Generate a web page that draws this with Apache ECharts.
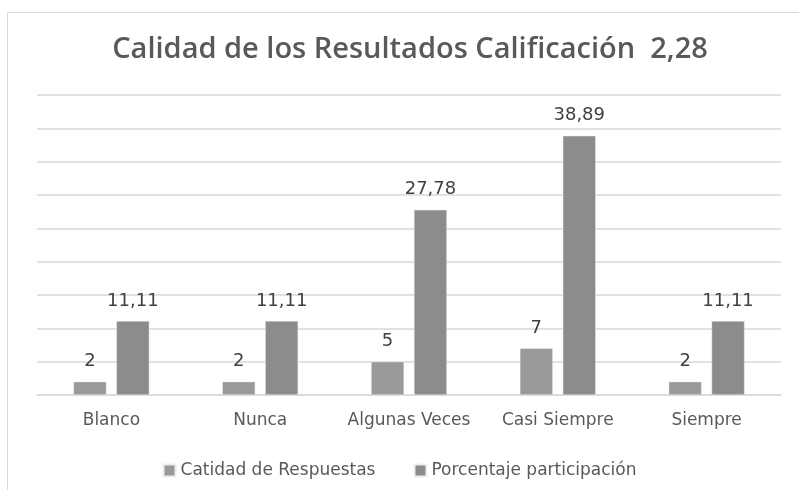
<!doctype html>
<html lang="es">
<head>
<meta charset="utf-8">
<title>Calidad de los Resultados</title>
<script src="https://cdn.jsdelivr.net/npm/echarts@6/dist/echarts.min.js"></script>
<style>
  html, body { margin: 0; padding: 0; background: #fff; }
  #frame { position: absolute; left: 7px; top: 12px; width: 820px; height: 500px; border: 1px solid #d9d9d9; }
  #chart { position: absolute; left: 0; top: 0; width: 799px; height: 490px; }
</style>
</head>
<body>
<div id="frame"></div>
<div id="chart"></div>
<script>
  const categories = ['Blanco', 'Nunca', 'Algunas Veces', 'Casi Siempre', 'Siempre'];
  const respuestas = [2, 2, 5, 7, 2];
  const porcentaje = [11.11, 11.11, 27.78, 38.89, 11.11];

  const titleFont = '"Open Sans", "Noto Sans", sans-serif';
  const font = '"DejaVu Sans", sans-serif';
  const fmt = function (p) { return String(p.value).replace('.', ','); };

  let myChart = echarts.init(document.getElementById('chart'));
  let labelStyle = {
    show: true, position: 'top', distance: 11, formatter: fmt,
    fontFamily: font, fontSize: 18, color: '#404040'
  };
  let option = {
    animation: false,
    title: {
      text: 'Calidad de los Resultados Calificación  2,28',
      left: 405,
      top: 30,
      textAlign: 'center',
      textStyle: { fontFamily: titleFont, fontSize: 29, fontWeight: 600, color: '#595959' }
    },
    legend: {
      top: 457,
      left: 'center',
      icon: 'rect',
      itemWidth: 12,
      itemHeight: 12,
      itemGap: 38,
      textStyle: { fontFamily: font, fontSize: 17, color: '#595959' },
      data: ['Catidad de Respuestas', 'Porcentaje participación']
    },
    grid: { left: 37, right: 18, top: 95, bottom: 95 },
    xAxis: {
      type: 'category',
      data: categories,
      axisTick: { show: false },
      axisLine: { lineStyle: { color: '#d9d9d9', width: 1.5 } },
      axisLabel: { interval: 0, fontFamily: font, fontSize: 17, color: '#595959', margin: 17 }
    },
    yAxis: {
      type: 'value',
      min: 0,
      max: 45,
      interval: 5,
      axisLabel: { show: false },
      splitLine: { lineStyle: { color: '#d9d9d9', width: 1.5 } }
    },
    series: [
      {
        name: 'Catidad de Respuestas',
        type: 'bar',
        data: respuestas,
        barWidth: 33,
        barGap: '30%',
        itemStyle: { color: '#999999', borderColor: '#eeeeee', borderWidth: 0.5 },
        label: labelStyle
      },
      {
        name: 'Porcentaje participación',
        type: 'bar',
        data: porcentaje,
        barWidth: 33,
        barGap: '30%',
        itemStyle: { color: '#8c8c8c', borderColor: '#eeeeee', borderWidth: 0.5 },
        label: labelStyle
      }
    ]
  };
  myChart.setOption(option);
</script>
</body>
</html>
